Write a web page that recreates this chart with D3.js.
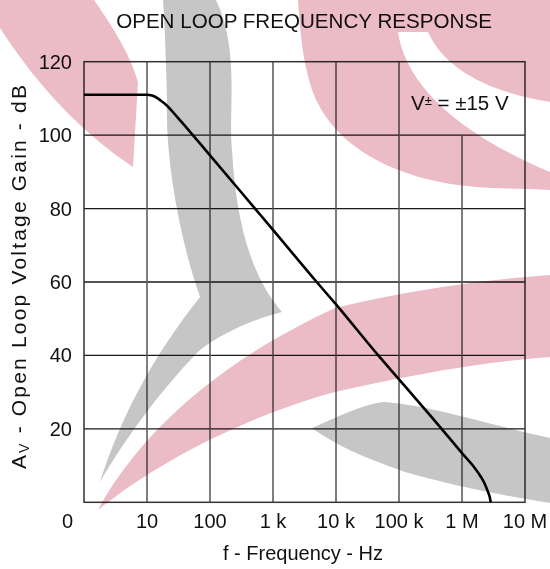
<!DOCTYPE html>
<html>
<head>
<meta charset="utf-8">
<script src="https://cdn.jsdelivr.net/npm/d3@7"></script>
<style>
  html, body { margin: 0; padding: 0; background: #fff; }
  svg { display: block; font-family: "Liberation Sans", Arial, sans-serif; }
</style>
</head>
<body>
<svg id="chart" width="550" height="569"></svg>
<script>
// ---- data ----
const freqHz = [1, 10, 12, 14, 16, 20, 30, 100, 518, 1000, 4940, 10000, 46900, 100000, 475000, 1000000, 1600000, 2000000, 2300000, 2550000, 2750000, 2860000];
const gainDb = [111, 111, 110.8, 110.3, 109.6, 108.3, 105.0, 94.5, 80, 74.2, 60, 53.9, 40, 33.5, 20, 13.4, 9.3, 6.9, 5.0, 3.1, 1.5, 0];
const xTickValues = [10, 100, 1000, 10000, 100000, 1000000, 10000000];
const xTickLabels = ["10", "100", "1 k", "10 k", "100 k", "1 M", "10 M"];
const yTickValues = [20, 40, 60, 80, 100, 120];
const originLabel = "0";
const titleText = "OPEN LOOP FREQUENCY RESPONSE";
const xTitle = "f - Frequency - Hz";
const conditionText = ["V", "±", " = ±15 V"];

// ---- layout ----
const svg = d3.select("#chart");
const x = d3.scaleLog().domain([1, 1e7]).range([84, 525]);
const y = d3.scaleLinear().domain([0, 120]).range([502.3, 61.7]);
const font = 20;

// grid
const grid = svg.append("g");
grid.selectAll(".hg").data(yTickValues.filter(v => v < 120)).join("line")
  .attr("x1", x(1)).attr("x2", x(1e7))
  .attr("y1", d => y(d)).attr("y2", d => y(d))
  .attr("stroke", "#1a1a1a").attr("stroke-width", 1.3);
grid.selectAll(".vg").data(xTickValues.filter(v => v < 1e7)).join("line")
  .attr("x1", d => x(d)).attr("x2", d => x(d))
  .attr("y1", y(0))
  .attr("y2", d => d >= 1e6 ? y(100) : y(120))
  .attr("stroke", "#555").attr("stroke-width", 1.5);
grid.append("rect")
  .attr("x", x(1)).attr("y", y(120))
  .attr("width", x(1e7) - x(1)).attr("height", y(0) - y(120))
  .attr("fill", "none").attr("stroke", "#333").attr("stroke-width", 1.5);

// curve
const pts = freqHz.map((f, i) => [f, gainDb[i]]);
svg.append("path")
  .datum(pts)
  .attr("fill", "none")
  .attr("stroke", "#000")
  .attr("stroke-width", 2.6)
  .attr("d", d3.line().x(d => x(d[0])).y(d => y(d[1])).curve(d3.curveMonotoneX));

// tick labels
svg.selectAll(".yl").data(yTickValues).join("text")
  .attr("x", 72).attr("y", d => y(d) + 7)
  .attr("text-anchor", "end").attr("font-size", font).attr("fill", "#111")
  .text(d => d);
svg.append("text").attr("x", 73).attr("y", 528)
  .attr("text-anchor", "end").attr("font-size", font).attr("fill", "#111")
  .text(originLabel);
svg.selectAll(".xl").data(xTickValues).join("text")
  .attr("x", d => x(d)).attr("y", 528)
  .attr("text-anchor", "middle").attr("font-size", font).attr("fill", "#111")
  .text((d, i) => xTickLabels[i]);

// titles
svg.append("text").attr("x", 304).attr("y", 28)
  .attr("text-anchor", "middle").attr("font-size", 20.6).attr("fill", "#111")
  .text(titleText);
svg.append("text").attr("x", 303).attr("y", 560)
  .attr("text-anchor", "middle").attr("font-size", font).attr("fill", "#111")
  .text(xTitle);

const yt = svg.append("text")
  .attr("transform", "translate(26,276) rotate(-90)")
  .attr("text-anchor", "middle").attr("font-size", 21).attr("fill", "#111");
yt.append("tspan").text("A");
yt.append("tspan").attr("font-size", 14).attr("baseline-shift", "-3").text("V");
yt.append("tspan").text(" - Open Loop Voltage Gain - dB");
const natural = yt.node().getComputedTextLength();
yt.attr("letter-spacing", Math.max(0, (384 - natural) / 31));

const ct = svg.append("text").attr("x", 411).attr("y", 110)
  .attr("font-size", 20.5).attr("fill", "#111");
ct.append("tspan").text(conditionText[0]);
ct.append("tspan").attr("font-size", 13).attr("baseline-shift", "5").text(conditionText[1]);
ct.append("tspan").text(conditionText[2]);

// ---- decorative watermark (multiplied over the chart) ----
const wm = svg.append("g").style("mix-blend-mode", "multiply");
const pink = "#ebbcc6", gray = "#c6c6c6";
const wmShapes = [
  { c: pink, d: "M0,0 L94,0 C115,30 130,55 138,82 L133,167 C85,135 40,90 0,28 Z" },
  { c: gray, d: "M163,0 L216,0 C240,50 228,110 232,150 C236,220 250,275 282,312 C250,320 220,335 200,350 C170,380 130,430 100,482 C120,420 150,360 200,297 C180,240 165,160 167,100 C166,60 165,30 163,0 Z" },
  { c: pink, d: "M298,0 L550,0 L550,190 C520,188 480,190 440,182 C380,170 330,140 312,90 C302,60 300,30 298,0 Z M398,32 C405,80 450,130 550,172 L550,102 C490,92 445,70 428,32 Z" },
  { c: pink, d: "M98,510 C130,450 200,370 335,308 C410,290 480,280 550,275 L550,357 C480,362 410,375 335,392 C250,415 160,460 98,510 Z" },
  { c: gray, d: "M312,428 C335,418 360,405 383,402 C430,405 490,425 550,438 L550,503 C500,495 450,485 405,472 C365,458 335,445 312,428 Z" }
];
wm.selectAll("path").data(wmShapes).join("path")
  .attr("d", d => d.d).attr("fill", d => d.c).attr("fill-rule", "evenodd");
</script>
</body>
</html>
